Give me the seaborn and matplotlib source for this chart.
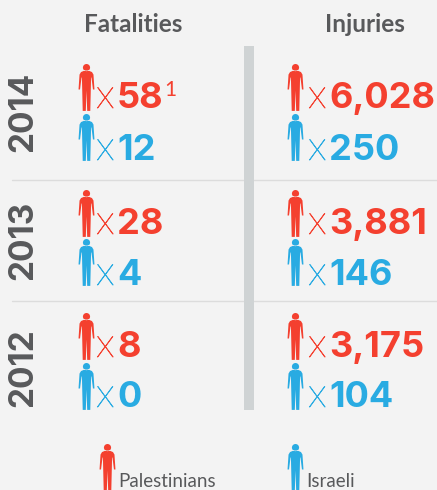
import matplotlib
matplotlib.use("Agg")
import matplotlib.pyplot as plt
import matplotlib.patheffects as pe
import pandas as pd
import seaborn as sns
from matplotlib.path import Path

years = ["2014", "2013", "2012"]
fatalities_palestinian = [58, 28, 8]
fatalities_israeli = [12, 4, 0]
injuries_palestinian = [6028, 3881, 3175]
injuries_israeli = [250, 146, 104]
column_titles = ["Fatalities", "Injuries"]
legend_labels = ["Palestinians", "Israeli"]

RED = "#f4402f"
BLUE = "#29abe2"
GREY = "#58595b"
BG = "#f3f3f3"
FONT = "Lato"
NUMFONT = "Inter"

sns.set_theme(style="white", rc={"figure.facecolor": BG, "axes.facecolor": BG})
plt.rcParams["font.family"] = [FONT, "DejaVu Sans"]

fig = plt.figure(figsize=(4.37, 4.90), dpi=100)
ax = fig.add_axes([0, 0, 1, 1])
ax.set_xlim(0, 437)
ax.set_ylim(490, 0)
ax.axis("off")

# person icon, in pixels relative to its centre (y up)
body = [(-2, 17), (2, 17), (5.5, 15.5), (7, 13), (8, -2), (6.5, -2), (5, 10), (4.6, 10),
        (3.8, -23.5), (0.7, -23.5), (0, -3), (-0.7, -23.5), (-3.8, -23.5), (-4.6, 10),
        (-5, 10), (-6.5, -2), (-8, -2), (-7, 13), (-5.5, 15.5), (-2, 17)]
head = Path.circle((0, 20), 3.6)
torso = Path(body, closed=True)
PERSON = Path.make_compound_path(head, torso)
MARKER_S = (47 * 0.72) ** 2

col_icon_x = [86, 295]
col_x_x = [96, 308]
col_num_x = [117, 329]
red_icon_y = [87, 213, 336]
blue_icon_y = [137, 262, 386]
red_base = [108, 234, 357]
blue_base = [160, 285, 407]
year_y = [112, 240, 368]


def people(xs, ys, color):
    df = pd.DataFrame({"x": xs, "y": ys})
    sns.scatterplot(data=df, x="x", y="y", marker=PERSON, s=MARKER_S, color=color,
                    linewidth=0, ax=ax, legend=False, clip_on=True, zorder=3)


ax.axvspan(244, 254, ymin=1 - 410 / 490, ymax=1 - 46 / 490, color="#cfd3d4", lw=0, zorder=1)
for y in (180, 301):
    ax.plot([12, 437], [y, y], color="#dcdcdc", lw=1, zorder=0)

for c, (pal, isr) in enumerate([(fatalities_palestinian, fatalities_israeli),
                                (injuries_palestinian, injuries_israeli)]):
    people([col_icon_x[c]] * 3, red_icon_y, RED)
    people([col_icon_x[c]] * 3, blue_icon_y, BLUE)
    for r in range(3):
        for val, base, col in ((pal[r], red_base[r], RED), (isr[r], blue_base[r], BLUE)):
            ax.text(col_x_x[c], base, "x", color=col, fontsize=30, fontweight="light",
                    family=FONT, va="baseline", ha="left",
                    path_effects=[pe.withStroke(linewidth=0.5, foreground=col)])
            ax.text(col_num_x[c], base, f"{val:,}", color=col, fontsize=26, fontweight="bold",
                    family=NUMFONT, va="baseline", ha="left")

ax.text(164, 96, "1", color=RED, fontsize=15, family=FONT, va="baseline", ha="left")

for y, label in zip(year_y, years):
    ax.text(23, y, label, rotation=90, color=GREY, fontsize=24, fontweight="bold",
            family=NUMFONT, ha="center", va="center")

for x, t in zip((133, 365), column_titles):
    ax.text(x, 25, t, color=GREY, fontsize=17.5, fontweight="bold", family=FONT,
            ha="center", va="center")

people([107], [467], RED)
people([295], [467], BLUE)
ax.text(118, 487, legend_labels[0], color=GREY, fontsize=13.5, family=FONT, va="baseline", ha="left")
ax.text(306, 487, legend_labels[1], color=GREY, fontsize=13.5, family=FONT, va="baseline", ha="left")

fig.savefig("out.png", dpi=100, facecolor=BG)
